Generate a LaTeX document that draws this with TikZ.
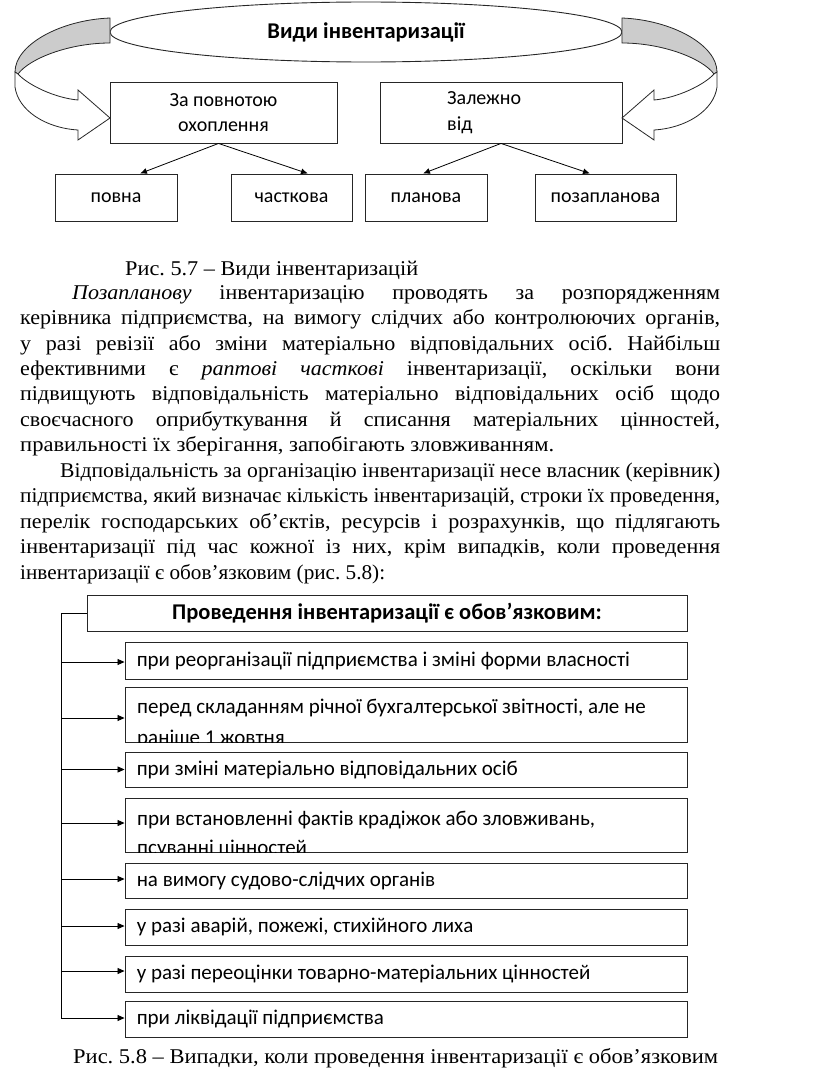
\documentclass[tikz,border=0pt]{standalone}
\usepackage{fontspec}
\usepackage{graphicx}
\setmainfont{Liberation Serif}[FakeStretch=1.05]
\newfontfamily\calfont{Carlito}
\usetikzlibrary{shapes.geometric, arrows.meta}
\frenchspacing
\newsavebox\jbox
\newcommand\jline[2]{\sbox\jbox{#2}\ifdim\wd\jbox>#1\resizebox{#1}{\height}{#2}\else\makebox[#1][s]{#2}\fi}
\newcommand\fitw[2]{\resizebox{#1}{\height}{#2}}

\begin{document}
\begin{tikzpicture}[x=1pt,y=-1pt,
  box/.style={draw=black!85, line width=0.9pt, inner sep=0pt},
  ttext/.style={font=\calfont\fontsize{20}{25.5}\selectfont, inner sep=0pt},
  dtext/.style={font=\calfont\fontsize{21}{25}\selectfont, inner sep=0pt},
  dbold/.style={font=\calfont\bfseries\fontsize{22.5}{25}\selectfont, inner sep=0pt},
  ptext/.style={font=\fontsize{21}{25}\selectfont, inner sep=0pt, anchor=base west},
  tarrow/.style={-{Latex[length=7pt,width=6pt]}, line width=0.8pt},
  barrow/.style={-{Triangle[length=7pt,width=6pt]}, line width=0.8pt},
  itembox/.style={box, minimum width=562pt},
  bandgray/.style={draw=black!85, line width=0.8pt, fill=gray!40},
  bandwhite/.style={draw=black!85, line width=0.8pt, fill=white},
]
\useasboundingbox (0,0) rectangle (816,1073);

% ---------- Figure 5.7 ----------
\node[box, ellipse, minimum width=512pt, minimum height=60pt, dbold] (ell) at (366,32) {Види інвентаризації};

% left curved arrow
\path[bandgray] (110,18) .. controls (60,20) and (15,45) .. (15,72) -- (18,74)
   .. controls (30,58) and (70,43) .. (110,43) -- cycle;
\path[bandwhite] (15,72) -- (15,87) .. controls (18,110) and (45,128) .. (78,130)
   -- (78,140) -- (110,118) -- (78,90) -- (78,100)
   .. controls (55,98) and (28,85) .. (18,74) -- cycle;
% right curved arrow (mirror)
\begin{scope}[shift={(732,0)}, xscale=-1]
\path[bandgray] (110,18) .. controls (60,20) and (15,45) .. (15,72) -- (18,74)
   .. controls (30,58) and (70,43) .. (110,43) -- cycle;
\path[bandwhite] (15,72) -- (15,87) .. controls (18,110) and (45,128) .. (78,130)
   -- (78,140) -- (110,118) -- (78,90) -- (78,100)
   .. controls (55,98) and (28,85) .. (18,74) -- cycle;
\end{scope}

\node[box, ttext, minimum width=227pt, minimum height=61pt, align=center] (b1) at (223.5,112.5) {За повнотою\\охоплення};
\node[box, minimum width=242pt, minimum height=61pt] (b2) at (501,112.5) {};
\node[ttext, anchor=west, align=left] (b2t) at (447,112.5) {Залежно\\від};

\node[box, ttext, minimum width=122pt, minimum height=47pt] (b11) at (116,197.5) {повна};
\node[box, ttext, minimum width=121pt, minimum height=47pt] (b12) at (291.5,197.5) {часткова};
\node[box, ttext, minimum width=122pt, minimum height=47pt] (b21) at (426,197.5) {планова};
\node[box, ttext, minimum width=141pt, minimum height=47pt] (b22) at (605.5,197.5) {позапланова};

\draw[tarrow] ([xshift=-5pt]b1.south) -- ([xshift=24pt]b11.north);
\draw[tarrow] ([xshift=-5pt]b1.south) -- ([xshift=16.5pt]b12.north);
\draw[tarrow] (b2.south) -- ([xshift=-3pt]b21.north);
\draw[tarrow] (b2.south) -- ([xshift=-15.5pt]b22.north);

\node[ptext] (cap1) at (125,275) {\fitw{293pt}{Рис. 5.7 – Види інвентаризацій}};

% ---------- Text ----------
\node[ptext] (p1) at (72,299) {\jline{648pt}{\textit{Позапланову} інвентаризацію проводять за розпорядженням}};
\node[ptext] (p2) at (20,324.5) {\jline{700pt}{керівника підприємства, на вимогу слідчих або контролюючих органів,}};
\node[ptext] (p3) at (20,350) {\jline{700pt}{у разі ревізії або зміни матеріально відповідальних осіб. Найбільш}};
\node[ptext] (p4) at (20,375.4) {\jline{700pt}{ефективними є \textit{раптові часткові} інвентаризації, оскільки вони}};
\node[ptext] (p5) at (20,400.8) {\jline{700pt}{підвищують відповідальність матеріально відповідальних осіб щодо}};
\node[ptext] (p6) at (20,426.3) {\jline{700pt}{своєчасного оприбуткування й списання матеріальних цінностей,}};
\node[ptext] (p7) at (20,451.7) {\fitw{534pt}{правильності їх зберігання, запобігають зловживанням.}};
\node[ptext] (p8) at (60,477.2) {\jline{660pt}{Відповідальність за організацію інвентаризації несе власник (керівник)}};
\node[ptext] (p9) at (20,502.6) {\jline{700pt}{підприємства, який визначає кількість інвентаризацій, строки їх проведення,}};
\node[ptext] (p10) at (20,528) {\jline{700pt}{перелік господарських об’єктів, ресурсів і розрахунків, що підлягають}};
\node[ptext] (p11) at (20,553.5) {\jline{700pt}{інвентаризації під час кожної із них, крім випадків, коли проведення}};
\node[ptext] (p12) at (20,579) {\fitw{365pt}{інвентаризації є обов’язковим (рис. 5.8):}};

% ---------- Figure 5.8 ----------
\node[box, dbold, minimum width=600pt, minimum height=36pt] (hd) at (387,613) {Проведення інвентаризації є обов’язковим:};

\node[itembox, minimum height=37pt] (i1) at (406,660.5) {};
\node[itembox, minimum height=55pt] (i2) at (406,714.5) {};
\node[itembox, minimum height=35pt] (i3) at (406,769.5) {};
\node[itembox, minimum height=54pt] (i4) at (406,825) {};
\node[itembox, minimum height=35pt] (i5) at (406,880.5) {};
\node[itembox, minimum height=36pt] (i6) at (406,927) {};
\node[itembox, minimum height=36pt] (i7) at (406,974) {};
\node[itembox, minimum height=36pt] (i8) at (406,1019) {};

\node[dtext, anchor=west] (t1) at ([xshift=12pt]i1.west) {при реорганізації підприємства і зміні форми власності};
\begin{scope}
\clip (i2.north west) rectangle (i2.south east);
\node[dtext, anchor=base west] (t2a) at (137,713) {перед складанням річної бухгалтерської звітності, але не};
\node[dtext, anchor=base west] (t2b) at (137,744) {раніше 1 жовтня};
\end{scope}
\node[dtext, anchor=west] (t3) at ([xshift=12pt]i3.west) {при зміні матеріально відповідальних осіб};
\begin{scope}
\clip (i4.north west) rectangle (i4.south east);
\node[dtext, anchor=base west] (t4a) at (137,825) {при встановленні фактів крадіжок або зловживань,};
\node[dtext, anchor=base west] (t4b) at (137,854) {псуванні цінностей};
\end{scope}
\node[dtext, anchor=west] (t5) at ([xshift=12pt]i5.west) {на вимогу судово-слідчих органів};
\node[dtext, anchor=west] (t6) at ([xshift=12pt]i6.west) {у разі аварій, пожежі, стихійного лиха};
\node[dtext, anchor=west] (t7) at ([xshift=12pt]i7.west) {у разі переоцінки товарно-матеріальних цінностей};
\node[dtext, anchor=west] (t8) at ([xshift=12pt]i8.west) {при ліквідації підприємства};

\coordinate (spine) at (61,613);
\draw[line width=0.8pt] (hd.west) -- (spine) -- (spine |- i8.west);
\foreach \k/\dy in {1/-1.5,2/-3.5,3/0,4/2,5/1.5,6/1,7/3,8/1} {
  \draw[barrow] ([yshift=\dy pt]spine |- i\k.west) -- ([yshift=\dy pt]i\k.west);
}

\node[ptext] (cap2) at (73,1063) {\fitw{645pt}{Рис. 5.8 – Випадки, коли проведення інвентаризації є обов’язковим}};
\end{tikzpicture}
\end{document}
